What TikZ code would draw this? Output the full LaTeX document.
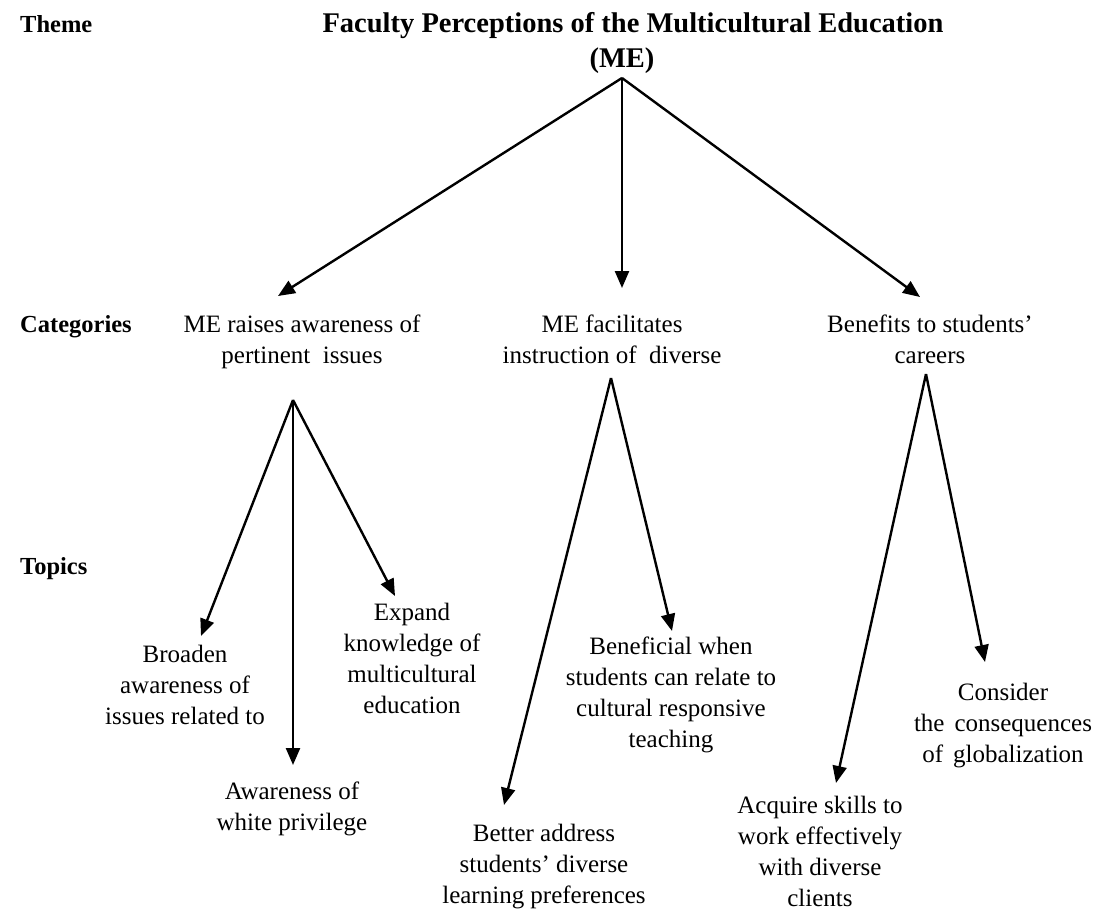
\documentclass[tikz,border=0pt]{standalone}
\usepackage{fontspec}
\setmainfont{Liberation Serif}
\usetikzlibrary{arrows.meta}
\begin{document}
% multi-line text nodes are placed by the baseline of their last line
\begin{tikzpicture}[x=1pt,y=-1pt,
  txt/.style={inner sep=0pt,align=center,anchor=base,font=\fontsize{25}{31}\selectfont},
  lvl/.style={inner sep=0pt,anchor=base west,font=\fontsize{24.5}{30}\selectfont\bfseries},
  ttl/.style={inner sep=0pt,anchor=base,font=\fontsize{28.5}{34}\selectfont\bfseries},
  arr/.style={line width=2.4pt,-{Triangle[length=17pt,width=14pt]}}]
\useasboundingbox (0,0) rectangle (1096,916);
% level labels
\node[lvl] (lt) at (20,32) {Theme};
\node[lvl] (lc) at (20,332) {Categories};
\node[lvl] (lp) at (20,574) {Topics};
% theme
\node[ttl] (t1) at (633,32) {Faculty Perceptions of the Multicultural Education};
\node[ttl] (t2) at (622,67) {(ME)};
% categories
\node[txt] (c1) at (302,363) {ME raises awareness of\\pertinent\ \ issues};
\node[txt] (c2) at (612,363) {ME facilitates\\instruction of\ \ diverse};
\node[txt] (c3) at (930,363) {Benefits to students'\\careers};
% topics
\node[txt] (p1) at (185,724) {Broaden\\awareness of\\issues related to};
\node[txt] (p2) at (292,830) {Awareness of\\white privilege};
\node[txt] (p3) at (412,713) {Expand\\knowledge of\\multicultural\\education};
\node[txt] (p4) at (671,747) {Beneficial when\\students can relate to\\cultural responsive\\teaching};
\node[txt] (p5) at (544,903) {Better address\\students' diverse\\learning preferences};
\node[txt] (p6) at (1003,762) {Consider\\the\hspace{10pt}consequences\\of\hspace{10pt}globalization};
\node[txt] (p7) at (820,906) {Acquire skills to\\work effectively\\with diverse\\clients};
% branch points and arrow tips
\coordinate (r0) at (622,78);
\coordinate (r1) at (293,400);
\coordinate (r2) at (611,378);
\coordinate (r3) at (926,374);
\coordinate (e1) at (278,296);
\coordinate (e2) at (622,288);
\coordinate (e3) at (920,297);
\coordinate (f1) at (201,636);
\coordinate (f2) at (293,765);
\coordinate (f3) at (395,596);
\coordinate (g1) at (504,805);
\coordinate (g2) at (672,631);
\coordinate (h1) at (836,783);
\coordinate (h2) at (985,662);
% connectors
\draw[arr] (r0) -- (e1);
\draw[arr] (r0) -- (e2);
\draw[arr] (r0) -- (e3);
\draw[arr] (r1) -- (f1);
\draw[arr] (r1) -- (f2);
\draw[arr] (r1) -- (f3);
\draw[arr] (r2) -- (g1);
\draw[arr] (r2) -- (g2);
\draw[arr] (r3) -- (h1);
\draw[arr] (r3) -- (h2);
\end{tikzpicture}
\end{document}
